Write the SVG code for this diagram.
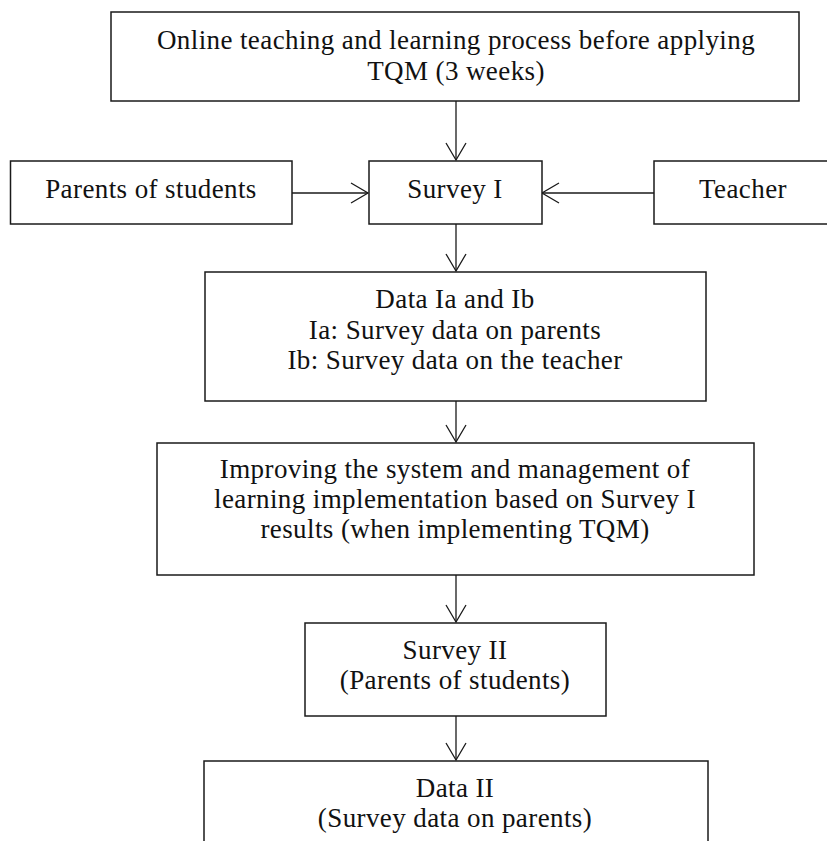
<svg xmlns="http://www.w3.org/2000/svg" width="827" height="841" viewBox="0 0 827 841">
<style>
.box{fill:#fff;stroke:#1a1a1a;stroke-width:1.5}
.lbl{font-family:"Liberation Serif","Times New Roman",serif;font-size:27px;letter-spacing:0.4px;fill:#111;text-anchor:middle}
.con{fill:none;stroke:#1a1a1a;stroke-width:1.3}
</style>
<defs>
<marker id="arr" markerUnits="userSpaceOnUse" markerWidth="24" markerHeight="24" viewBox="-19 -12 21 24" refX="0" refY="0" orient="auto">
<path d="M-17,-10 L0,0 L-17,10" fill="none" stroke="#1a1a1a" stroke-width="1.3"/>
</marker>
</defs>
<rect width="827" height="841" fill="#fff"/>
<g id="connectors">
<line class="con" x1="456" y1="101" x2="456" y2="160" marker-end="url(#arr)"/>
<line class="con" x1="292" y1="193" x2="368" y2="193" marker-end="url(#arr)"/>
<line class="con" x1="654" y1="193" x2="542" y2="193" marker-end="url(#arr)"/>
<line class="con" x1="456" y1="224" x2="456" y2="271" marker-end="url(#arr)"/>
<line class="con" x1="456" y1="401" x2="456" y2="442" marker-end="url(#arr)"/>
<line class="con" x1="456" y1="575" x2="456" y2="622" marker-end="url(#arr)"/>
<line class="con" x1="456" y1="716" x2="456" y2="760" marker-end="url(#arr)"/>
</g>
<g id="online">
<rect class="box" x="111" y="12" width="688" height="89"/>
<text class="lbl" x="456" y="49">Online teaching and learning process before applying</text>
<text class="lbl" x="456" y="80">TQM (3 weeks)</text>
</g>
<g id="parents">
<rect class="box" x="10.5" y="161" width="281.5" height="63"/>
<text class="lbl" x="151" y="198">Parents of students</text>
</g>
<g id="survey1">
<rect class="box" x="369" y="161" width="173" height="63"/>
<text class="lbl" x="455" y="198">Survey I</text>
</g>
<g id="teacher">
<rect class="box" x="654" y="161" width="200" height="63"/>
<text class="lbl" x="743" y="198">Teacher</text>
</g>
<g id="data1">
<rect class="box" x="205" y="272" width="501" height="129"/>
<text class="lbl" x="455" y="308">Data Ia and Ib</text>
<text class="lbl" x="455" y="339">Ia: Survey data on parents</text>
<text class="lbl" x="455" y="369">Ib: Survey data on the teacher</text>
</g>
<g id="improving">
<rect class="box" x="157" y="443" width="597" height="132"/>
<text class="lbl" x="455" y="478">Improving the system and management of</text>
<text class="lbl" x="455" y="508">learning implementation based on Survey I</text>
<text class="lbl" x="455" y="538">results (when implementing TQM)</text>
</g>
<g id="survey2">
<rect class="box" x="305" y="623" width="301" height="93"/>
<text class="lbl" x="455" y="659">Survey II</text>
<text class="lbl" x="455" y="689">(Parents of students)</text>
</g>
<g id="data2">
<rect class="box" x="204" y="761" width="504" height="100"/>
<text class="lbl" x="455" y="797">Data II</text>
<text class="lbl" x="455" y="827">(Survey data on parents)</text>
</g>
</svg>
